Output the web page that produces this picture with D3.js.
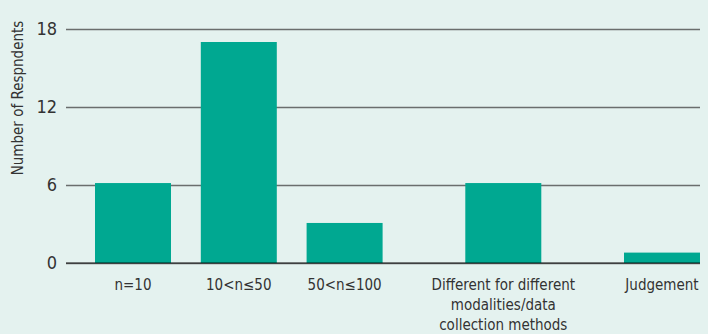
<!DOCTYPE html>
<html>
<head>
<meta charset="utf-8">
<script src="https://cdn.jsdelivr.net/npm/d3@7/dist/d3.min.js"></script>
<style>
  html, body { margin: 0; padding: 0; background: #e4f2ef; }
  svg { display: block; }
  text { font-family: "Liberation Sans Narrow", "DejaVu Sans Condensed", "Roboto", sans-serif; fill: #333; }
</style>
</head>
<body>
<svg id="chart" width="708" height="334"></svg>
<script>
// Survey responses: sample size used per category
const categories = [
  "n=10",
  "10<n≤50",
  "50<n≤100",
  "Different for different|modalities/data|collection methods",
  "Judgement"
];
const respondents = [6.15, 17, 3.08, 6.15, 0.8];
const yTicks = [0, 6, 12, 18];
const yTitle = "Number of Respndents";

// Horizontal slot (in half-steps) that each category sits in
const slotIndex = [0, 2, 4, 7, 10];

const W = 708, H = 334;
const svg = d3.select("#chart");

const y = d3.scaleLinear().domain([0, 18]).range([263, 29]);
const x = d3.scaleLinear().domain([0, 10]).range([133, 662]);
const barW = 76;

// gridlines
const axisG = svg.append("g").attr("transform", "translate(66,0)");
axisG.call(d3.axisLeft(y).tickValues(yTicks).tickSize(-634).tickPadding(9).tickFormat(d3.format("d")))
  .call(g => g.select(".domain").remove())
  .call(g => g.selectAll(".tick line").attr("stroke", "#6a6e6d").attr("stroke-width", 1.5))
  .call(g => g.selectAll(".tick text").attr("fill", "#333").style("font-size", "18px"));

// bars
svg.append("g").selectAll("rect")
  .data(respondents)
  .join("rect")
  .attr("x", (d, i) => x(slotIndex[i]) - barW / 2)
  .attr("y", d => y(d))
  .attr("width", barW)
  .attr("height", d => y(0) - y(d))
  .attr("fill", "#00a891");

// baseline over bars
svg.append("line")
  .attr("x1", 66).attr("x2", 700)
  .attr("y1", y(0)).attr("y2", y(0))
  .attr("stroke", "#000").attr("stroke-opacity", 0.55).attr("stroke-width", 1.5);

// category labels
const labels = svg.append("g").selectAll("text")
  .data(categories)
  .join("text")
  .attr("x", (d, i) => x(slotIndex[i]))
  .attr("y", 290)
  .attr("text-anchor", "middle")
  .style("font-size", "15px");
labels.selectAll("tspan")
  .data(d => d.split("|"))
  .join("tspan")
  .attr("x", function () { return this.parentNode.getAttribute("x"); })
  .attr("dy", (d, i) => i === 0 ? 0 : 20)
  .text(d => d);

// y-axis title
svg.append("text")
  .attr("transform", "translate(23,98) rotate(-90)")
  .attr("text-anchor", "middle")
  .style("font-size", "15px")
  .text(yTitle);
</script>
</body>
</html>
